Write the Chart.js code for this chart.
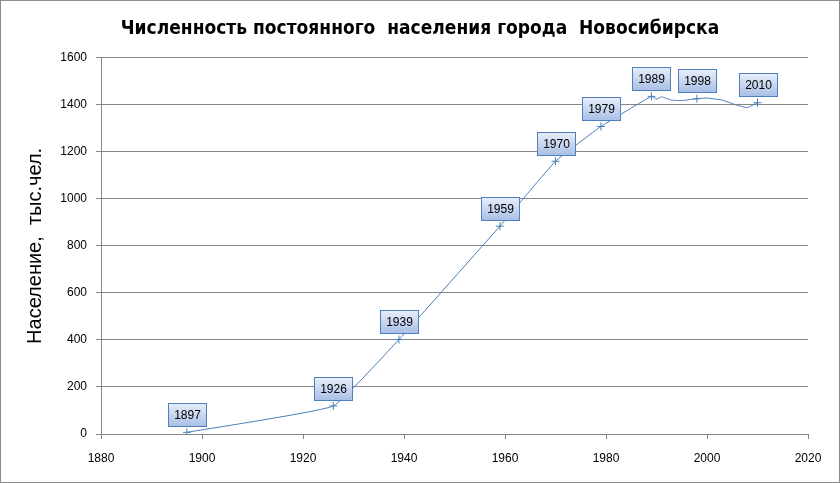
<!DOCTYPE html>
<html>
<head>
<meta charset="utf-8">
<script src="https://cdn.jsdelivr.net/npm/chart.js@4/dist/chart.umd.min.js"></script>
<style>
  html, body { margin: 0; padding: 0; background: #fff; }
  canvas { display: block; }
</style>
</head>
<body>
<canvas id="popChart" width="840" height="483"></canvas>
<script>
// годы и численность населения (тыс. чел.)
const years = [1897, 1926, 1939, 1959, 1970, 1979, 1989, 1990, 1991, 1993, 1995, 1998, 2000, 2003, 2006, 2008, 2010];
const population = [7, 119, 402, 884, 1160, 1308, 1436, 1424, 1434, 1420, 1418, 1426, 1429, 1420, 1398, 1388, 1409];
// годы переписей - только они отмечены крестиком и подписью
const censusYears = [1897, 1926, 1939, 1959, 1970, 1979, 1989, 1998, 2010];
const xTicks = [1880, 1900, 1920, 1940, 1960, 1980, 2000, 2020];
const yTicks = [0, 200, 400, 600, 800, 1000, 1200, 1400, 1600];

const FONT = "'Liberation Sans', Arial, sans-serif";
const GRID = "#868686";
const LINE = "#4a7ebb";

// рамка вокруг всей диаграммы
const frame = {
    id: "frame",
    beforeDraw(chart) {
        const c = chart.ctx;
        c.save();
        c.fillStyle = "#fff";
        c.fillRect(0, 0, chart.width, chart.height);
        c.restore();
    },
    afterDraw(chart) {
        const c = chart.ctx;
        c.save();
        c.strokeStyle = "#8c8c8c";
        c.lineWidth = 1;
        c.strokeRect(0.5, 0.5, chart.width - 1, chart.height - 1);
        c.restore();
    }
};

// подписи-годы в синих прямоугольниках над точками
const yearBoxes = {
    id: "yearBoxes",
    afterDatasetsDraw(chart) {
        const c = chart.ctx;
        const meta = chart.getDatasetMeta(0);
        c.save();
        c.font = "12px " + FONT;
        c.textAlign = "center";
        c.textBaseline = "middle";
        years.forEach((yr, i) => {
            if (!censusYears.includes(yr)) return;
            const p = meta.data[i];
            const w = 38, h = 23;
            const left = Math.round(p.x - w / 2) + 0.5;
            const top = Math.round(p.y - 18 - h / 2) + 0.5;
            const g = c.createLinearGradient(0, top, 0, top + h);
            g.addColorStop(0, "#e8eef9");
            g.addColorStop(1, "#a9bfe6");
            c.fillStyle = g;
            c.fillRect(left, top, w, h);
            c.strokeStyle = "#4f7fbf";
            c.lineWidth = 1;
            c.strokeRect(left, top, w, h);
            c.fillStyle = "#000";
            c.fillText(String(yr), left + w / 2, top + h / 2 + 1);
        });
        c.restore();
    }
};

new Chart(document.getElementById("popChart").getContext("2d"), {
    type: "line",
    data: {
        datasets: [{
            data: years.map((yr, i) => ({ x: yr, y: population[i] })),
            borderColor: LINE,
            borderWidth: 1,
            tension: 0.1,
            pointStyle: "cross",
            pointRadius: years.map(yr => censusYears.includes(yr) ? 4 : 0),
            pointBorderColor: LINE,
            pointBorderWidth: 1,
            fill: false
        }]
    },
    options: {
        responsive: false,
        animation: false,
        devicePixelRatio: 1,
        layout: { padding: { left: 0, right: 0, top: 18, bottom: 0 } },
        plugins: {
            legend: { display: false },
            tooltip: { enabled: false },
            title: {
                display: true,
                text: "Численность постоянного  населения города  Новосибирска",
                color: "#000",
                font: { family: "'Liberation Sans Narrow', 'DejaVu Sans Condensed', sans-serif", size: 19, weight: "bold" },
                padding: { top: 0, bottom: 17 }
            }
        },
        scales: {
            x: {
                type: "linear",
                min: 1880,
                max: 2020,
                afterBuildTicks: (scale) => { scale.ticks = xTicks.map(v => ({ value: v })); },
                afterFit: (scale) => { scale.height = 49; },
                ticks: { color: "#000", font: { family: FONT, size: 12 }, padding: 12, maxRotation: 0, callback: (v) => String(v) },
                grid: { drawOnChartArea: false, drawTicks: true, tickLength: 5, color: GRID },
                border: { color: GRID }
            },
            y: {
                min: 0,
                max: 1600,
                afterBuildTicks: (scale) => { scale.ticks = yTicks.map(v => ({ value: v })); },
                afterFit: (scale) => { scale.width = 101; },
                ticks: { color: "#000", font: { family: FONT, size: 12 }, padding: 9, callback: (v) => String(v) },
                grid: { color: GRID, tickLength: 5 },
                border: { color: GRID },
                title: {
                    display: true,
                    text: "Население,  тыс.чел.",
                    color: "#000",
                    font: { family: FONT, size: 20 },
                    padding: { top: 23, bottom: 0 }
                }
            },
            // пустая правая ось - только отступ справа, чтобы заголовок стоял по центру
            yRight: {
                position: "right",
                min: 0,
                max: 1600,
                afterFit: (scale) => { scale.width = 32; },
                ticks: { display: false },
                grid: { display: false, drawOnChartArea: false },
                border: { display: false }
            }
        }
    },
    plugins: [frame, yearBoxes]
});
</script>
</body>
</html>
